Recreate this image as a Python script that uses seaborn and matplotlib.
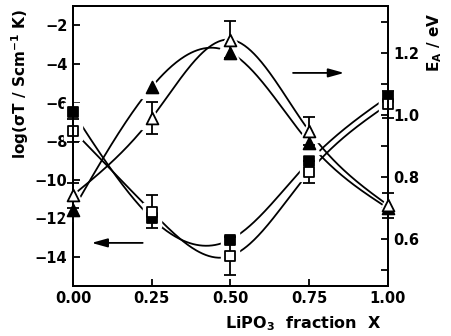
import numpy as np
import matplotlib
matplotlib.use("Agg")
import matplotlib.pyplot as plt
import seaborn as sns

# LiPO3 fraction
x_frac = [0.0, 0.25, 0.5, 0.75, 1.0]

# log(sigma T) -> left axis (squares)
logsig_filled = [-6.5, -12.0, -13.1, -9.05, -5.7]
logsig_open = [-7.45, -11.65, -13.95, -9.6, -6.1]
logsig_open_err = [0.6, 0.85, 1.0, 0.55, 0.7]

# activation energy E_A -> right axis (triangles)
ea_filled = [0.695, 1.09, 1.20, 0.91, 0.70]
ea_open = [0.742, 0.99, 1.242, 0.948, 0.71]
ea_open_err = [0.04, 0.05, 0.06, 0.045, 0.04]


def smooth(xs, ys, n=300):
    # natural cubic spline through the points, just for the drawn curve
    xs = np.asarray(xs, float)
    ys = np.asarray(ys, float)
    h = np.diff(xs)
    m = len(xs)
    A = np.zeros((m, m))
    b = np.zeros(m)
    A[0, 0] = A[-1, -1] = 1
    for i in range(1, m - 1):
        A[i, i - 1] = h[i - 1]
        A[i, i] = 2 * (h[i - 1] + h[i])
        A[i, i + 1] = h[i]
        b[i] = 3 * ((ys[i + 1] - ys[i]) / h[i] - (ys[i] - ys[i - 1]) / h[i - 1])
    c = np.linalg.solve(A, b)
    bb = (ys[1:] - ys[:-1]) / h - h * (2 * c[:-1] + c[1:]) / 3
    d = (c[1:] - c[:-1]) / (3 * h)
    xx = np.linspace(xs[0], xs[-1], n)
    idx = np.clip(np.searchsorted(xs, xx) - 1, 0, m - 2)
    dx = xx - xs[idx]
    yy = ys[idx] + bb[idx] * dx + c[idx] * dx ** 2 + d[idx] * dx ** 3
    return xx, yy


sns.set_style("ticks", {'axes.edgecolor': 'black', 'text.color': 'black',
                        'axes.labelcolor': 'black', 'xtick.color': 'black',
                        'ytick.color': 'black'})
plt.rcParams['font.family'] = ['DejaVu Sans']
plt.rcParams['font.weight'] = 'bold'
plt.rcParams['font.size'] = 10.5

fig = plt.figure(figsize=(4.51, 3.36), dpi=100)
ax = fig.add_axes([0.162, 0.149, 0.698, 0.833])
ax2 = ax.twinx()


def draw_series(a, ys, marker, filled, size, err=None):
    xx, yy = smooth(x_frac, ys)
    a.plot(xx, yy, color='black', lw=1.3, zorder=1)
    # white halo so the curve breaks around each symbol
    a.plot(x_frac, ys, ls='none', marker=marker, ms=size * 1.9, color='white',
           zorder=2, clip_on=False)
    if err is not None:
        a.errorbar(x_frac, ys, yerr=err, fmt='none', ecolor='black', elinewidth=1.3,
                   capsize=4, capthick=1.3, zorder=3, clip_on=False)
    sns.scatterplot(x=x_frac, y=ys, ax=a, marker=marker, s=size ** 2,
                    color='black' if filled else 'white', edgecolor='black',
                    linewidth=1.3, zorder=4, clip_on=False, legend=False)


draw_series(ax, logsig_filled, 's', True, 7)
draw_series(ax, logsig_open, 's', False, 7, logsig_open_err)
draw_series(ax2, ea_filled, '^', True, 8.5)
draw_series(ax2, ea_open, '^', False, 8.5, ea_open_err)

ax.set_xlim(0, 1)
ax.set_ylim(-15.5, -1)
ax2.set_ylim(0.45, 1.35)

ax.set_xticks([0, 0.25, 0.5, 0.75, 1.0])
ax.set_xticklabels(['0.00', '0.25', '0.50', '0.75', '1.00'])
ax.set_yticks([-2, -4, -6, -8, -10, -12, -14])
ax2.set_yticks([0.6, 0.8, 1.0, 1.2])
ax2.set_yticks(np.arange(0.5, 1.35, 0.1), minor=True)

for s in ['left', 'right', 'top', 'bottom']:
    ax.spines[s].set_visible(True)
    ax.spines[s].set_linewidth(1.4)
    ax2.spines[s].set_linewidth(1.4)
ax.tick_params(axis='both', direction='in', length=5, width=1.3, pad=4, colors='black')
ax2.tick_params(axis='y', which='both', direction='in', length=5, width=1.3, pad=4,
                colors='black')

ax.set_xlabel('LiPO$_\\mathbf{3}$  fraction  X', fontweight='bold', fontsize=11.5,
              color='black')
ax.xaxis.set_label_coords(0.73, -0.1)
ax.set_ylabel('log(σT / Scm$^{\\mathbf{-1}}$ K)', fontweight='bold', fontsize=11,
              color='black')
ax.yaxis.set_label_coords(-0.135, 0.72)
ax2.set_ylabel('E$_\\mathbf{A}$ / eV', fontweight='bold', fontsize=11, color='black')
ax2.yaxis.set_label_coords(1.12, 0.87)

# arrows showing which axis each pair belongs to
ax.annotate('', xy=(0.05, -13.27), xytext=(0.23, -13.27),
            arrowprops=dict(arrowstyle='-|>,head_length=0.9,head_width=0.25',
                            color='black', lw=1.3))
ax2.annotate('', xy=(0.87, 1.135), xytext=(0.69, 1.135),
             arrowprops=dict(arrowstyle='-|>,head_length=0.9,head_width=0.25',
                             color='black', lw=1.3))

fig.savefig('out.png', dpi=100)
